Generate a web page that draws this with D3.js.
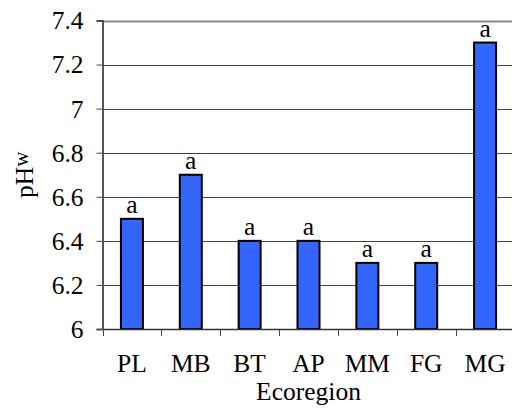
<!DOCTYPE html>
<html lang="en">
<head>
<meta charset="utf-8">
<title>pHw by Ecoregion</title>
<script src="https://d3js.org/d3.v7.min.js"></script>
<style>
body { margin: 0; background: #fff; }
svg text { font-family: "Liberation Serif", "Times New Roman", Times, serif; fill: #000; }
</style>
</head>
<body>
<script>
// data
const regions = ["PL", "MB", "BT", "AP", "MM", "FG", "MG"];
const phValues = [6.5, 6.7, 6.4, 6.4, 6.3, 6.3, 7.3];
const letters = ["a", "a", "a", "a", "a", "a", "a"];
const yTicks = [6, 6.2, 6.4, 6.6, 6.8, 7, 7.2, 7.4];

const svgWidth = 512, svgHeight = 409;
const plotLeft = 102.5, plotRight = 514.5, plotTop = 20.5, plotBottom = 329;
const fontSize = 25.5;

const svg = d3.select("body").append("svg")
    .attr("width", svgWidth)
    .attr("height", svgHeight);

const x = d3.scaleBand()
    .domain(regions)
    .range([plotLeft, plotRight])
    .paddingInner(0)
    .paddingOuter(0);

const y = d3.scaleLinear()
    .domain([6, 7.4])
    .range([plotBottom, plotTop]);

// gridlines
svg.append("g")
    .selectAll("line")
    .data(yTicks.filter(d => d > 6))
    .join("line")
    .attr("x1", plotLeft)
    .attr("x2", svgWidth)
    .attr("y1", d => Math.round(y(d)) + 0.5)
    .attr("y2", d => Math.round(y(d)) + 0.5)
    .attr("stroke", d => d === 7.4 ? "#888" : "#444")
    .attr("stroke-width", d => d === 7.4 ? 2 : 1);

// y axis
const yAxis = d3.axisLeft(y)
    .tickValues(yTicks)
    .tickFormat(d => d3.format("")(d))
    .tickSize(6)
    .tickPadding(13);

const gy = svg.append("g")
    .attr("transform", `translate(${plotLeft},0)`)
    .call(yAxis)
    .attr("font-family", null);
gy.select(".domain").attr("stroke", "#555").attr("stroke-width", 2);
gy.selectAll(".tick line").attr("stroke", "#444");
gy.selectAll(".tick text")
    .attr("font-size", fontSize)
    .attr("dy", "0.33em");

// bars
const barW = 22;
svg.append("g")
    .selectAll("rect")
    .data(regions)
    .join("rect")
    .attr("x", d => x(d) + x.bandwidth() / 2 - barW / 2)
    .attr("y", (d, i) => y(phValues[i]))
    .attr("width", barW)
    .attr("height", (d, i) => y(6) - y(phValues[i]))
    .attr("fill", "#3366ff")
    .attr("stroke", "#000")
    .attr("stroke-width", 2);

// letters above bars
svg.append("g")
    .selectAll("text")
    .data(regions)
    .join("text")
    .attr("x", d => x(d) + x.bandwidth() / 2)
    .attr("y", (d, i) => y(phValues[i]) - 6)
    .attr("text-anchor", "middle")
    .attr("font-size", fontSize)
    .text((d, i) => letters[i]);

// x axis
const xAxis = d3.axisBottom(x)
    .tickSize(0)
    .tickPadding(25);

const gx = svg.append("g")
    .attr("transform", `translate(0,${plotBottom})`)
    .call(xAxis)
    .attr("font-family", null);
gx.select(".domain").attr("stroke", "#333").attr("stroke-width", 1.5);
gx.selectAll(".tick text")
    .attr("font-size", fontSize);

// category separators below axis
svg.append("g")
    .selectAll("line")
    .data(regions)
    .join("line")
    .attr("x1", d => Math.round(x(d)) + 0.5)
    .attr("x2", d => Math.round(x(d)) + 0.5)
    .attr("y1", plotBottom)
    .attr("y2", plotBottom + 7)
    .attr("stroke", "#444");

// axis titles
svg.append("text")
    .attr("x", (plotLeft + plotRight) / 2)
    .attr("y", 400)
    .attr("text-anchor", "middle")
    .attr("font-size", fontSize)
    .text("Ecoregion");

const yt = svg.append("text")
    .attr("transform", `translate(33,${(plotTop + plotBottom) / 2}) rotate(-90)`)
    .attr("text-anchor", "middle")
    .attr("font-size", fontSize);
yt.append("tspan").text("pH");
yt.append("tspan").attr("font-size", 21).attr("dy", -5).text("w");
</script>
</body>
</html>
